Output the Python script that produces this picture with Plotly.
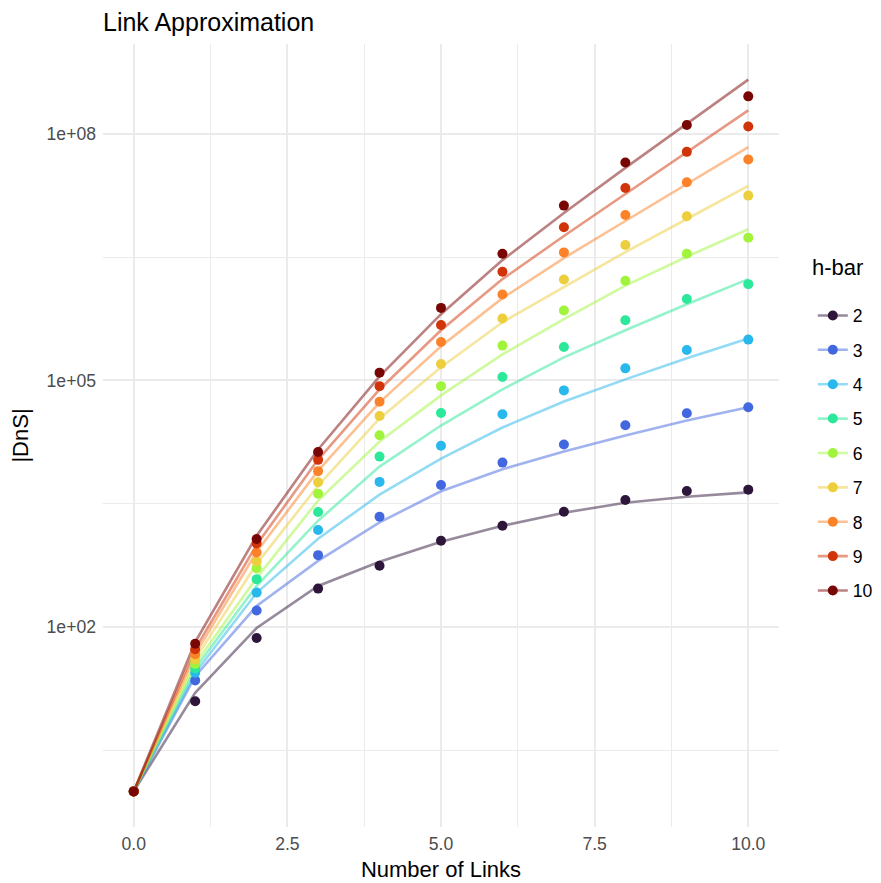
import plotly.graph_objects as go

links = [0, 1, 2, 3, 4, 5, 6, 7, 8, 9, 10]
hbar = [2, 3, 4, 5, 6, 7, 8, 9, 10]

# exact values (points)
dns_points = {
    2: [1, 12.5, 73.5, 293, 555, 1119, 1706, 2524, 3508, 4519, 4688],
    3: [1, 22.4, 159, 748, 2193, 5346, 10000, 16600, 28510, 39900, 47210],
    4: [1, 27.7, 262, 1510, 5821, 16030, 38730, 75510, 140000, 234400, 313300],
    5: [1, 31.3, 382, 2506, 11830, 40180, 109700, 254700, 539500, 977200, 1482000],
    6: [1, 35.6, 520, 4188, 21530, 85110, 264900, 709600, 1633000, 3467000, 5433000],
    7: [1, 40.4, 625, 5754, 36900, 158100, 565000, 1690000, 4426000, 9910000, 17700000],
    8: [1, 46.5, 805, 7870, 55080, 293100, 1109000, 3606000, 10280000, 25760000, 48640000],
    9: [1, 53.5, 1038, 10790, 85110, 472100, 2094000, 7278000, 21930000, 60260000, 122700000],
    10: [1, 62.5, 1175, 13430, 124200, 762100, 3467000, 13370000, 44670000, 127600000, 285100000],
}

# approximation (lines)
dns_approx = {
    2: [1, 15.8, 97.2, 316, 621, 1089, 1706, 2455, 3251, 3846, 4345],
    3: [1, 25.2, 180, 638, 1871, 4477, 8279, 13610, 21330, 32510, 47210],
    4: [1, 27.7, 260, 1183, 4074, 11190, 26730, 55460, 102800, 185400, 322800],
    5: [1, 31.3, 316, 1963, 8933, 28250, 77580, 190500, 407500, 845300, 1706000],
    6: [1, 35.6, 396, 3443, 18030, 65600, 207500, 554600, 1419000, 3193000, 6887000],
    7: [1, 40.7, 586, 5248, 34440, 144200, 509300, 1361000, 3639000, 9183000, 23230000],
    8: [1, 46.9, 822, 7980, 53950, 260000, 1000000, 3076000, 8690000, 24550000, 68870000],
    9: [1, 54.0, 1000, 10890, 77580, 407500, 1706000, 5702000, 18530000, 60260000, 192300000],
    10: [1, 65.6, 1288, 14420, 111900, 638300, 2904000, 10890000, 38460000, 132400000, 456000000],
}

colors = {
    2: (45, 22, 58),
    3: (66, 104, 224),
    4: (40, 184, 236),
    5: (43, 232, 154),
    6: (160, 245, 60),
    7: (237, 206, 60),
    8: (251, 130, 40),
    9: (209, 52, 8),
    10: (120, 6, 4),
}

x_tickvals = [0, 2.5, 5, 7.5, 10]
x_ticktext = ["0.0", "2.5", "5.0", "7.5", "10.0"]
y_tickvals = [1e2, 1e5, 1e8]
y_ticktext = ["1e+02", "1e+05", "1e+08"]

FONT = "Liberation Sans, Arial, sans-serif"

fig = go.Figure()

for h in hbar:
    r, g, b = colors[h]
    fig.add_trace(go.Scatter(
        x=links, y=dns_approx[h], mode="lines",
        line=dict(color=f"rgba({r},{g},{b},0.5)", width=2.6),
        showlegend=False, hoverinfo="skip", legendgroup=str(h)))

for h in hbar:
    r, g, b = colors[h]
    fig.add_trace(go.Scatter(
        x=links, y=dns_points[h], mode="markers",
        marker=dict(color=f"rgb({r},{g},{b})", size=10),
        showlegend=False, legendgroup=str(h)))

for h in hbar:
    r, g, b = colors[h]
    fig.add_trace(go.Scatter(
        x=[None], y=[None], mode="lines+markers", name=str(h),
        line=dict(color=f"rgba({r},{g},{b},0.5)", width=2.6),
        marker=dict(color=f"rgb({r},{g},{b})", size=10),
        legendgroup=str(h), showlegend=True))

# page has an ~8px body offset; compensate so the plot lands where the reference has it
W, H = 873, 875
ML, MR, MT, MB = 95, 102, 36, 56

fig.update_layout(
    width=W, height=H,
    margin=dict(l=ML, r=MR, t=MT, b=MB, autoexpand=False),
    paper_bgcolor="white", plot_bgcolor="white",
    font=dict(family=FONT, color="black"),
    title=dict(text="Link Approximation", x=ML / W, xref="container", xanchor="left",
               y=1 - 14 / H, yref="container", yanchor="middle",
               font=dict(size=25, color="black", family=FONT)),
    xaxis=dict(
        range=[-0.5, 10.5], tickmode="array", tickvals=x_tickvals, ticktext=x_ticktext,
        showgrid=True, gridcolor="#EBEBEB", gridwidth=2, zeroline=False, showline=False,
        ticks="", ticklabelstandoff=4, tickfont=dict(size=17.6, color="#4D4D4D", family=FONT),
        minor=dict(tickmode="array", tickvals=[1.25, 3.75, 6.25, 8.75],
                   showgrid=True, gridcolor="#EBEBEB", gridwidth=1.2, ticks=""),
        title=dict(text="Number of Links", font=dict(size=22, color="black", family=FONT), standoff=9),
    ),
    yaxis=dict(
        type="log", range=[-0.433, 9.092], tickmode="array", tickvals=y_tickvals, ticktext=y_ticktext,
        showgrid=True, gridcolor="#EBEBEB", gridwidth=2, zeroline=False, showline=False,
        ticks="", ticklabelstandoff=6, tickfont=dict(size=17.6, color="#4D4D4D", family=FONT),
        minor=dict(tickmode="array", tickvals=[10 ** 0.5, 10 ** 3.5, 10 ** 6.5],
                   showgrid=True, gridcolor="#EBEBEB", gridwidth=1.2, ticks=""),
        title=dict(text="|DnS|", font=dict(size=22, color="black", family=FONT), standoff=16),
    ),
    legend=dict(
        x=1.05, y=(H - MB - (453 - 8)) / (H - MT - MB), xanchor="left", yanchor="middle",
        font=dict(size=17.6, color="black", family=FONT),
        tracegroupgap=8.5, bgcolor="rgba(0,0,0,0)",
    ),
    annotations=[dict(
        text="h-bar", xref="paper", yref="paper",
        x=(837.5 - 8 - ML) / (W - ML - MR), y=(H - MB - (267 - 8)) / (H - MT - MB),
        xanchor="center", yanchor="middle", showarrow=False,
        font=dict(size=22, color="black", family=FONT))],
)

fig.write_html("out.html")
